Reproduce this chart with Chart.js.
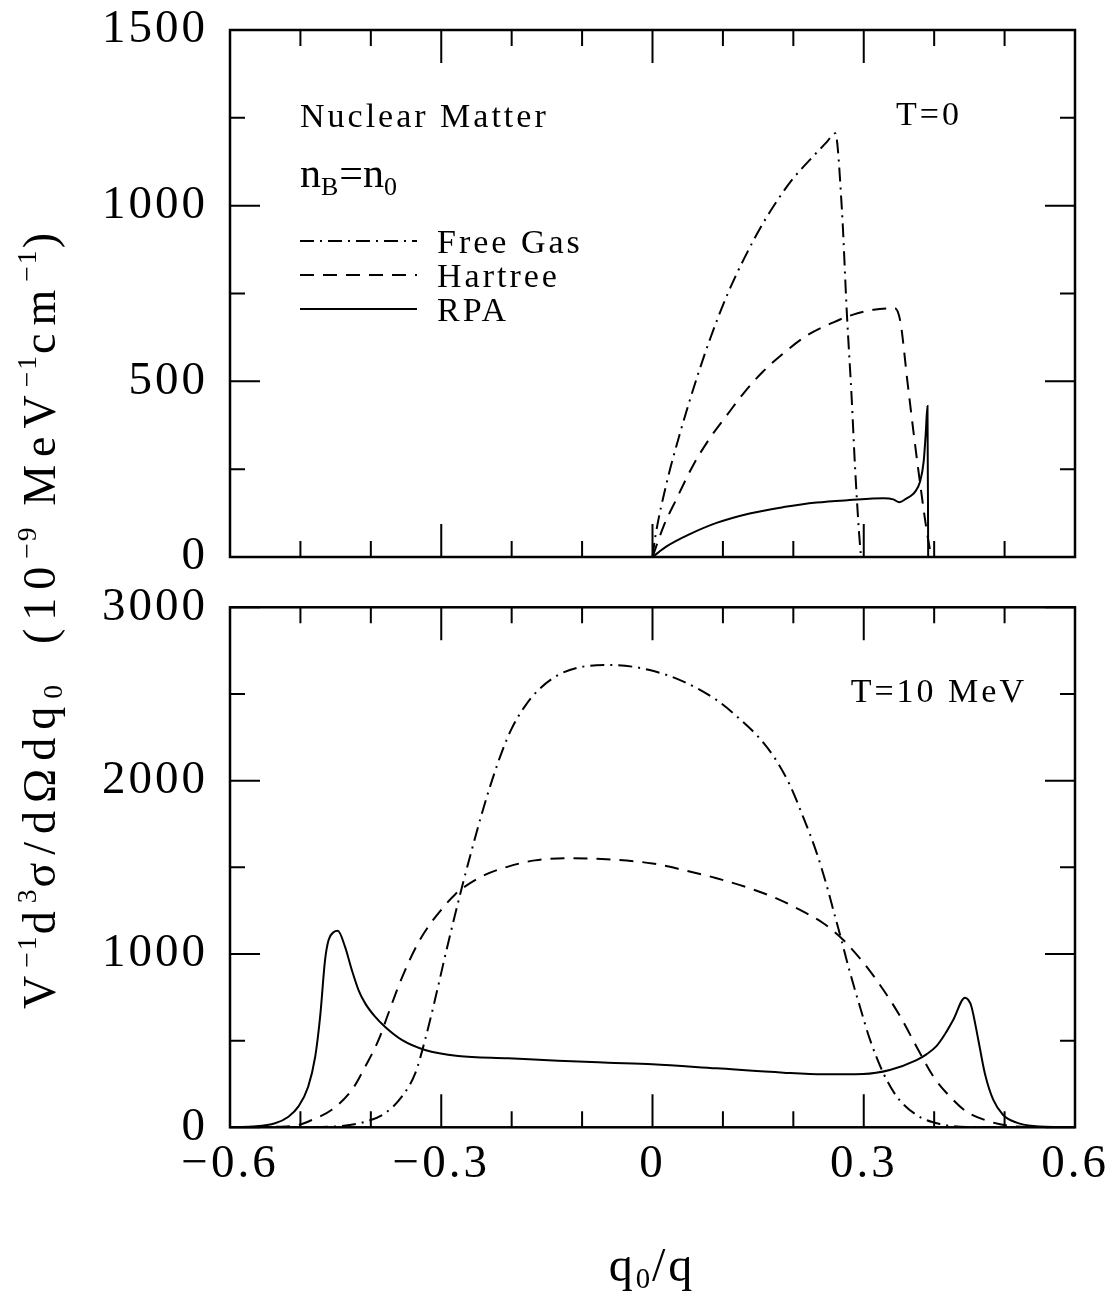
<!DOCTYPE html>
<html><head><meta charset="utf-8">
<script src="https://cdn.jsdelivr.net/npm/chart.js@4.4.1/dist/chart.umd.min.js"></script>
<style>
body{margin:0;background:#fff;}
#wrap{position:relative;width:1114px;height:1297px;overflow:hidden;background:#fff;}
canvas{position:absolute;left:0;}
#c1{top:0;}
#c2{top:580px;}
.ytitle{position:absolute;left:-460px;top:587px;width:1000px;height:60px;text-align:center;transform:rotate(-90deg);transform-origin:500px 30px;font-family:'Liberation Serif',serif;font-size:46px;letter-spacing:8px;white-space:nowrap;color:#000;line-height:60px;}
.xtitle{position:absolute;left:452px;top:1237px;width:400px;height:56px;text-align:center;font-family:'Liberation Serif',serif;font-size:48px;letter-spacing:3px;white-space:nowrap;color:#000;line-height:56px;}
sup{font-size:0.6em;vertical-align:0.7em;letter-spacing:2px;line-height:0;}
sub{font-size:0.6em;vertical-align:-0.25em;letter-spacing:2px;line-height:0;}
</style></head>
<body>
<div id="wrap">
<canvas id="c1" width="1114" height="585"></canvas>
<canvas id="c2" width="1114" height="717"></canvas>
<div class="ytitle">V<sup>−1</sup>d<sup>3</sup>σ/dΩdq<sub>0</sub>&nbsp; (10<sup>−9</sup> MeV<sup>−1</sup>cm<sup>−1</sup>)</div>
<div class="xtitle">q<sub>0</sub>/q</div>
</div>
<script>
// ---------- tick labels ----------
const xTickValues = [-0.6, -0.3, 0, 0.3, 0.6];
const xTickLabels = ['−0.6', '−0.3', '0', '0.3', '0.6'];
const xMinorTicks = [-0.6,-0.5,-0.4,-0.3,-0.2,-0.1,0,0.1,0.2,0.3,0.4,0.5,0.6];
const topYTicks = [0, 500, 1000, 1500];
const topYMinor = [0,250,500,750,1000,1250,1500];
const botYTicks = [0, 1000, 2000, 3000];
const botYMinor = [0,500,1000,1500,2000,2500,3000];

// ---------- T = 0 ----------
const t0FreeGasQ = [0, 0.004, 0.020, 0.039, 0.063, 0.082, 0.105, 0.129, 0.157, 0.181, 0.200, 0.228, 0.247, 0.2595, 0.269, 0.276, 0.283, 0.2876, 0.2957, 0.2965];
const t0FreeGasV = [0, 58, 210, 352, 510, 622, 741, 845, 950, 1026, 1078, 1140, 1180, 1206, 988, 694, 447, 257, 10, 0];
const t0HartreeQ = [0, 0.0154, 0.034, 0.058, 0.082, 0.105, 0.129, 0.157, 0.186, 0.219, 0.257, 0.285, 0.314, 0.344, 0.352, 0.362, 0.371, 0.380, 0.389, 0.396];
const t0HartreeV = [0, 86, 165, 262, 340, 402, 465, 528, 580, 630, 668, 690, 704, 708, 670, 500, 350, 210, 80, 0];
const t0RpaQ = [0, 0.020, 0.053, 0.091, 0.138, 0.186, 0.233, 0.280, 0.328, 0.342, 0.3505, 0.361, 0.368, 0.373, 0.380, 0.385, 0.388, 0.3905, 0.3915];
const t0RpaV = [0, 30, 65, 97, 124, 142, 155, 162, 167, 164, 156, 167, 176, 186, 215, 270, 350, 430, 0];

// ---------- T = 10 MeV ----------
const t10FreeGasQ = [-0.60, -0.49, -0.441, -0.408, -0.380, -0.356, -0.337, -0.323, -0.309, -0.295, -0.282, -0.270, -0.257, -0.242, -0.228, -0.214, -0.200, -0.181, -0.162, -0.134, -0.100, -0.058, -0.004, 0.044, 0.091, 0.124, 0.153, 0.176, 0.195, 0.214, 0.233, 0.247, 0.258, 0.268, 0.280, 0.295, 0.309, 0.328, 0.347, 0.375, 0.408, 0.446, 0.60];
const t10FreeGasV = [0, 1, 8, 32, 81, 177, 311, 504, 734, 980, 1200, 1395, 1595, 1815, 2000, 2165, 2300, 2430, 2523, 2609, 2657, 2667, 2638, 2571, 2465, 2355, 2240, 2115, 1975, 1790, 1585, 1400, 1235, 1085, 900, 690, 504, 311, 177, 71, 19, 2, 0];
const t10HartreeQ = [-0.60, -0.53, -0.503, -0.484, -0.456, -0.427, -0.408, -0.389, -0.375, -0.361, -0.347, -0.333, -0.318, -0.299, -0.280, -0.266, -0.238, -0.205, -0.167, -0.120, -0.072, 0.0, 0.044, 0.091, 0.138, 0.176, 0.2095, 0.2426, 0.271, 0.280, 0.304, 0.328, 0.352, 0.375, 0.399, 0.4225, 0.446, 0.475, 0.508, 0.55, 0.60];
const t10HartreeV = [0, 3, 13, 42, 100, 215, 350, 504, 658, 811, 946, 1062, 1160, 1260, 1345, 1390, 1456, 1504, 1540, 1552, 1548, 1522, 1484, 1437, 1379, 1321, 1254, 1177, 1081, 1042, 927, 792, 638, 465, 292, 177, 90, 38, 8, 1, 0];
const t10RpaQ = [-0.60, -0.569, -0.536, -0.517, -0.503, -0.489, -0.479, -0.472, -0.465, -0.460, -0.453, -0.447, -0.4366, -0.427, -0.4175, -0.408, -0.394, -0.380, -0.356, -0.323, -0.276, -0.205, -0.134, -0.063, 0.0, 0.091, 0.186, 0.243, 0.299, 0.337, 0.375, 0.389, 0.4036, 0.415, 0.427, 0.4438, 0.4485, 0.453, 0.4627, 0.472, 0.484, 0.498, 0.517, 0.541, 0.60];
const t10RpaV = [0, 4, 23, 61, 119, 234, 407, 638, 966, 1081, 1125, 1134, 1041, 907, 792, 715, 638, 580, 504, 446, 411, 398, 384, 373, 364, 340, 315, 306, 308, 331, 388, 421, 470, 535, 619, 748, 735, 696, 504, 311, 158, 71, 27, 8, 0];

const DASH_FREE = [14, 6, 2, 6];
const DASH_HARTREE = [14, 9];
const FONT = "'Liberation Serif', serif";

function pts(q, v) { return q.map((x, i) => ({x: x, y: v[i]})); }
function ds(label, q, v, dash) {
  return {label, data: pts(q, v), borderColor: '#000', borderWidth: 2, borderDash: dash,
    pointRadius: 0, fill: false, cubicInterpolationMode: 'monotone', tension: 0};
}

Chart.defaults.font.family = FONT;
Chart.defaults.color = '#000';

const spacingPlugin = {
  id: 'spacing',
  beforeDraw(chart) { chart.ctx.letterSpacing = '3px'; },
  afterDraw(chart) { chart.ctx.letterSpacing = '0px'; }
};

const framePlugin = {
  id: 'frame',
  afterDatasetsDraw(chart, args, opts) {
    const {ctx, chartArea: a, scales} = chart;
    ctx.save();
    ctx.setLineDash([]);
    ctx.strokeStyle = '#000';
    ctx.lineWidth = 2;
    ctx.beginPath();
    opts.xMinor.forEach(v => {
      const px = scales.x.getPixelForValue(v);
      const major = Math.abs(v / 0.3 - Math.round(v / 0.3)) < 1e-6;
      const L = major ? 33 : 16;
      ctx.moveTo(px, a.bottom); ctx.lineTo(px, a.bottom - L);
      ctx.moveTo(px, a.top); ctx.lineTo(px, a.top + L);
    });
    opts.yMinor.forEach(v => {
      const py = scales.y.getPixelForValue(v);
      const major = v % opts.yMajor === 0;
      const L = major ? 30 : 15;
      ctx.moveTo(a.left, py); ctx.lineTo(a.left + L, py);
      ctx.moveTo(a.right, py); ctx.lineTo(a.right - L, py);
    });
    ctx.stroke();
    ctx.lineWidth = 2.5;
    ctx.strokeRect(a.left, a.top, a.right - a.left, a.bottom - a.top);
    ctx.restore();
  }
};

function txt(ctx, s, x, y, size, align, spacing) {
  ctx.font = size + 'px ' + FONT;
  ctx.letterSpacing = (spacing || 0) + 'px';
  ctx.textAlign = align || 'left';
  ctx.textBaseline = 'alphabetic';
  ctx.fillStyle = '#000';
  ctx.fillText(s, x, y);
  return ctx.measureText(s).width;
}

const annotTop = {
  id: 'annotTop',
  afterDraw(chart) {
    const ctx = chart.ctx;
    ctx.save();
    txt(ctx, 'Nuclear Matter', 300, 127, 34, 'left', 3);
    txt(ctx, 'T=0', 962, 125, 34, 'right', 3);
    // n_B = n_0
    let x = 300;
    x += txt(ctx, 'n', x, 187, 42, 'left', 0);
    x += txt(ctx, 'B', x, 195, 26, 'left', 0) + 1;
    x += txt(ctx, '=', x, 187, 42, 'left', 0);
    x += txt(ctx, 'n', x, 187, 42, 'left', 0);
    txt(ctx, '0', x, 195, 26, 'left', 0);
    // legend
    const rows = [
      {label: 'Free Gas', dash: DASH_FREE, y: 241},
      {label: 'Hartree', dash: DASH_HARTREE, y: 275},
      {label: 'RPA', dash: [], y: 309}
    ];
    rows.forEach(r => {
      ctx.beginPath();
      ctx.setLineDash(r.dash);
      ctx.lineWidth = 2;
      ctx.strokeStyle = '#000';
      ctx.moveTo(300, r.y); ctx.lineTo(417, r.y);
      ctx.stroke();
      ctx.setLineDash([]);
      txt(ctx, r.label, 437, r.y + 12, 34, 'left', 3);
    });
    ctx.restore();
  }
};

const annotBot = {
  id: 'annotBot',
  afterDraw(chart) {
    const ctx = chart.ctx;
    ctx.save();
    txt(ctx, 'T=10 MeV', 1027, 122, 34, 'right', 3);
    ctx.restore();
  }
};

function makeOptions(yMax, yTicks, yMinor, yMajor, showX, padding, xHeight) {
  return {
    responsive: false,
    animation: false,
    layout: {padding},
    plugins: {legend: {display: false}, tooltip: {enabled: false},
      frame: {xMinor: xMinorTicks, yMinor: yMinor, yMajor: yMajor}},
    scales: {
      x: {
        type: 'linear', min: -0.6, max: 0.6, display: showX,
        grid: {display: false, drawTicks: false},
        border: {display: false},
        afterBuildTicks: s => { s.ticks = xTickValues.map(v => ({value: v})); },
        afterFit: s => { if (xHeight) s.height = xHeight; s.paddingLeft = 0; s.paddingRight = 0; },
        ticks: {padding: 14, maxRotation: 0, autoSkip: false,
          font: {size: 47, family: FONT, lineHeight: 1},
          callback: v => { const i = xTickValues.findIndex(t => Math.abs(t - v) < 1e-9); return i >= 0 ? xTickLabels[i] : ''; }}
      },
      y: {
        type: 'linear', min: 0, max: yMax,
        grid: {display: false, drawTicks: false},
        border: {display: false},
        afterBuildTicks: s => { s.ticks = yTicks.map(v => ({value: v})); },
        afterFit: s => { s.width = 230; s.paddingTop = 0; s.paddingBottom = 0; },
        ticks: {padding: 22, autoSkip: false,
          font: {size: 47, family: FONT, lineHeight: 1},
          callback: v => String(v)}
      }
    }
  };
}

new Chart(document.getElementById('c1'), {
  type: 'line',
  data: {datasets: [
    ds('Free Gas', t0FreeGasQ, t0FreeGasV, DASH_FREE),
    ds('Hartree', t0HartreeQ, t0HartreeV, DASH_HARTREE),
    ds('RPA', t0RpaQ, t0RpaV, [])
  ]},
  options: makeOptions(1500, topYTicks, topYMinor, 500, false, {left: 0, top: 30, right: 39, bottom: 28}, 0),
  plugins: [spacingPlugin, framePlugin, annotTop]
});

new Chart(document.getElementById('c2'), {
  type: 'line',
  data: {datasets: [
    ds('Free Gas', t10FreeGasQ, t10FreeGasV, DASH_FREE),
    ds('Hartree', t10HartreeQ, t10HartreeV, DASH_HARTREE),
    ds('RPA', t10RpaQ, t10RpaV, [])
  ]},
  options: makeOptions(3000, botYTicks, botYMinor, 1000, true, {left: 0, top: 27.3, right: 39, bottom: 0}, 169.7),
  plugins: [spacingPlugin, framePlugin, annotBot]
});
</script>
</body></html>
